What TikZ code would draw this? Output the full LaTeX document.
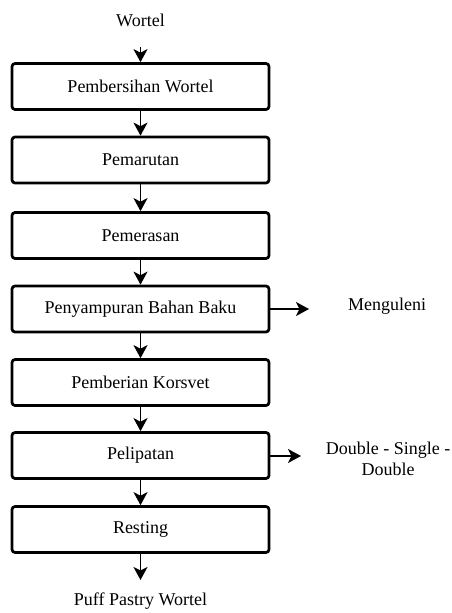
\documentclass[tikz,border=0pt]{standalone}
\usepackage{fontspec}
\newfontfamily\tnr{Liberation Serif}
\usetikzlibrary{arrows.meta}
\begin{document}
\begin{tikzpicture}[x=1pt,y=-1pt,
  stepbox/.style={draw, line width=2.7pt, rounded corners=3pt, minimum width=257pt, minimum height=46pt, inner sep=0pt, font=\tnr\fontsize{18}{21}\selectfont},
  lbl/.style={inner sep=0pt, font=\tnr\fontsize{18}{21}\selectfont, align=center},
  conn/.style={line width=1.6pt, -{Stealth[length=13pt,width=14pt,inset=3.5pt]}}]
\useasboundingbox (0,0) rectangle (451,613);
\node[lbl] (in) at (140.5,20) {Wortel};
\coordinate (inA) at (140.5,47);
\node[stepbox] (b1) at (140.5,86.5) {Pembersihan Wortel};
\node[stepbox] (b2) at (140.5,160) {Pemarutan};
\node[stepbox] (b3) at (140.5,235.5) {Pemerasan};
\node[stepbox] (b4) at (140.5,309) {Penyampuran Bahan Baku};
\node[stepbox] (b5) at (140.5,382.5) {Pemberian Korsvet};
\node[stepbox] (b6) at (140.5,455.5) {Pelipatan};
\node[stepbox] (b7) at (140.5,529.5) {Resting};
\coordinate (outA) at (140.5,580);
\node[lbl] (out) at (140.5,601) {Puff Pastry Wortel};
\coordinate (s1) at (309,309);
\node[lbl] (m) at (387,306) {Menguleni};
\coordinate (s2) at (301,456);
\node[lbl] (d) at (388,459) {Double - Single -\\Double};
\draw[conn] (inA) -- (b1.north);
\draw[conn] (b1) -- (b2);
\draw[conn] (b2) -- (b3);
\draw[conn] (b3) -- (b4);
\draw[conn] (b4) -- (b5);
\draw[conn] (b5) -- (b6);
\draw[conn] (b6) -- (b7);
\draw[conn] (b7.south) -- (outA);
\draw[conn] (b4.east) -- (s1);
\draw[conn] (b6.east |- s2) -- (s2);
\end{tikzpicture}
\end{document}
